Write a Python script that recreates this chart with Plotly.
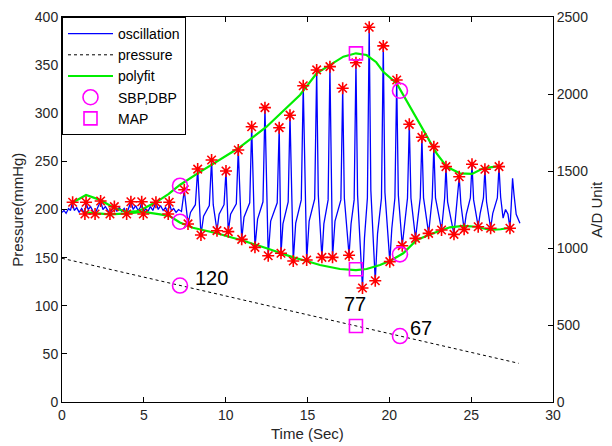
import plotly.graph_objects as go

# ---------------- data ----------------
# oscillation waveform (time s, value on the pressure scale)
osc_t = [0.00, 0.12, 0.25, 0.40, 0.52, 0.63, 0.75, 0.90, 1.05, 1.20, 1.38, 1.47, 1.60, 1.75, 1.90,
         2.02, 2.18, 2.36, 2.50, 2.65, 2.80, 2.93, 3.05, 3.20, 3.35, 3.50, 3.65, 3.80, 3.95, 4.08,
         4.21, 4.35, 4.50, 4.65, 4.78, 4.87, 4.97, 5.10, 5.25, 5.40, 5.55, 5.74, 5.88, 6.02, 6.18,
         6.33, 6.49, 6.55, 6.68, 6.82, 6.97, 7.12, 7.30, 7.47,
         7.70, 7.85, 8.15, 8.29,
         8.49, 8.65, 9.00, 9.14, 9.24,
         9.47, 9.60, 9.90, 10.02,
         10.16, 10.30, 10.65, 10.77,
         10.98, 11.12, 11.47, 11.59,
         11.79, 11.95, 12.28, 12.40,
         12.60, 12.75, 13.15, 13.27,
         13.38, 13.50, 13.82, 13.93,
         14.13, 14.28, 14.62, 14.74,
         14.95, 15.10, 15.44, 15.56, 15.66,
         15.88, 16.00, 16.26, 16.37,
         16.53, 16.68, 17.04, 17.15, 17.25,
         17.54, 17.66, 17.85, 17.96, 18.06,
         18.36, 18.48, 18.66, 18.77, 18.87,
         19.14, 19.28, 19.52, 19.63, 19.73,
         20.03, 20.15, 20.34, 20.45, 20.55,
         20.79, 20.92, 21.11, 21.22, 21.32,
         21.60, 21.72, 21.89, 21.99, 22.09,
         22.40, 22.50, 22.62, 22.72, 22.82,
         23.19, 23.28, 23.38, 23.46, 23.56,
         23.95, 24.05, 24.18, 24.27, 24.37,
         24.57, 24.70, 24.95, 25.05, 25.15,
         25.43, 25.55, 25.75, 25.84, 25.94,
         26.19, 26.32, 26.60, 26.70, 26.80,
         26.95, 27.10, 27.25, 27.37, 27.45, 27.53, 27.62, 27.75, 27.98]
osc_v = [197, 199, 196, 201, 199, 207, 199, 202, 197, 201, 195.5, 207, 200, 203, 198,
         195.5, 202, 208.5, 200, 203, 199, 195.5, 200, 203, 198, 202, 198, 201, 195.5, 201,
         208, 200, 204, 199, 202, 208, 195.5, 201, 198, 203, 199, 207.5, 200, 204, 199,
         202, 195.5, 207.5, 199, 201, 197, 200, 198, 220,
         185, 197, 205, 242,
         173.5, 193, 204, 251.4, 205,
         178, 195, 205, 240,
         177, 195, 206, 261.8,
         169, 192, 207, 286,
         160.7, 190, 208, 305.8,
         152, 188, 207, 285,
         154.5, 185, 208, 298,
         146.5, 186, 210, 328.6,
         147.5, 188, 211, 345, 215,
         150.3, 185, 210, 348.4,
         150.3, 188, 210, 326, 212,
         152.5, 185, 210, 352.5, 215,
         118.4, 170, 212, 389.3, 220,
         126, 175, 212, 370, 218,
         145.8, 180, 212, 334.5, 215,
         162.4, 185, 212, 288.5, 212,
         170, 190, 212, 275, 212,
         175.2, 192, 212, 265.3, 212,
         178.7, 195, 212, 244.5, 208,
         174.2, 192, 210, 234, 206,
         179.4, 195, 212, 247, 210,
         182.1, 196, 212, 241.8, 208,
         180.5, 196, 212, 244.5, 213,
         191, 200, 195, 180.5, 205, 232.4, 215, 195, 185.6]

# peak / trough detections (red stars)
peak_t = [0.65, 1.47, 2.36, 3.20, 4.21, 4.87, 5.74, 6.55, 7.47, 8.29, 9.14, 10.02, 10.77, 11.59,
          12.40, 13.27, 13.93, 14.74, 15.56, 16.37, 17.15, 17.96, 18.77, 19.63, 20.45, 21.22,
          21.99, 22.72, 23.46, 24.27, 25.05, 25.84, 26.70]
peak_v = [207.5, 207.5, 208.8, 203, 208, 208, 207.5, 207.5, 220.5, 242, 251.4, 240, 261.8, 286,
          305.8, 285, 298, 328.6, 345, 348.4, 326, 352.5, 389.3, 370, 334.5, 288.5,
          275, 265.3, 244.5, 234, 247, 241.8, 244.5]
trough_t = [1.40, 2.02, 2.93, 3.95, 4.97, 6.49, 7.70, 8.49, 9.47, 10.16, 10.98, 11.79, 12.60,
            13.38, 14.13, 14.95, 15.88, 16.53, 17.54, 18.36, 19.14, 20.03, 20.79, 21.60,
            22.40, 23.19, 23.95, 24.57, 25.43, 26.19, 27.37]
trough_v = [195.3, 195.3, 195.3, 195.3, 195.3, 195.3, 185, 173.5, 178, 177, 169, 160.7, 152,
            154.5, 146.5, 147.5, 150.3, 150.3, 152.5, 118.4, 126, 145.8, 162.4, 170,
            175.2, 178.7, 174.2, 179.4, 182.1, 180.5, 180.5]

# polyfit envelopes
up_t = [0.63, 1.47, 2.32, 3.24, 4.00, 4.50, 4.87, 5.78, 6.50, 7.20, 8.29, 9.50, 10.77, 12.50,
        13.50, 14.54, 15.56, 16.37, 17.19, 17.96, 18.61, 19.20, 19.63, 20.45, 21.26, 22.07,
        22.89, 23.50, 24.31, 25.05, 25.74, 26.70]
up_v = [207, 215, 210, 201, 197.5, 198, 200, 208, 216, 225.5, 237.6, 250, 263.6, 286,
        302, 319, 341.5, 350, 358.8, 362.3, 360.5, 353, 343, 331, 306.8, 282.6,
        258.4, 244.5, 237.6, 237, 242.8, 245]
lo_t = [1.40, 2.93, 4.00, 4.97, 6.00, 6.60, 7.20, 8.00, 9.45, 11.08, 12.50, 14.13, 15.05,
        15.76, 16.98, 17.96, 18.61, 19.43, 20.14, 20.85, 21.67, 22.68, 23.70, 24.51, 25.33,
        26.15, 26.80, 27.37]
lo_v = [197, 195, 196, 197.5, 195, 193, 186.5, 181, 175.3, 167.6, 159.7, 150.3, 146,
        142.3, 138.2, 137.1, 138.2, 142.3, 147.5, 154.5, 168.3, 175.3, 181.5, 182.9, 182.1,
        178.7, 179.5, 181]

# cuff pressure
pres_t = [0.0, 7.21, 17.96, 20.65, 27.9]
pres_v = [149.3, 121.1, 79.0, 68.5, 40.2]

# SBP / DBP and MAP markers
sbp_t = [7.21, 7.21, 7.21, 20.65, 20.65, 20.65]
sbp_v = [224.7, 187.3, 121.0, 323.4, 153.4, 68.5]
map_t = [17.96, 17.96, 17.96]
map_v = [362.2, 137.9, 79.0]

# labels
lab_text = ["120", "77", "67"]
lab_t = [7.98, 17.9, 21.14]
lab_v = [128.5, 101.8, 77.4]
lab_anchor = ["left", "center", "left"]

x_ticks = [0, 5, 10, 15, 20, 25, 30]
y_ticks = [0, 50, 100, 150, 200, 250, 300, 350, 400]
y2_ticks = [0, 500, 1000, 1500, 2000, 2500]

# ---------------- figure ----------------
FONT = "Arial, Liberation Sans, sans-serif"
TXT = "#262626"
RED = "#FF0000"
MAG = "#FF00FF"
fig = go.Figure()

fig.add_trace(go.Scatter(x=osc_t, y=osc_v, mode="lines", name="oscillation",
                         line=dict(color="#0000FF", width=1.3)))
fig.add_trace(go.Scatter(x=pres_t, y=pres_v, mode="lines", name="pressure",
                         line=dict(color="black", width=1, dash="dot")))
fig.add_trace(go.Scatter(x=up_t, y=up_v, mode="lines", name="polyfit",
                         line=dict(color="#00EE00", width=2.2)))
fig.add_trace(go.Scatter(x=lo_t, y=lo_v, mode="lines", name="polyfit", showlegend=False,
                         line=dict(color="#00EE00", width=2.2)))
for st, sv in ((peak_t, peak_v), (trough_t, trough_v)):
    fig.add_trace(go.Scatter(x=st, y=sv, mode="markers", showlegend=False,
                             marker=dict(symbol="asterisk-open", size=10, color=RED,
                                         line=dict(color=RED, width=1.6))))
fig.add_trace(go.Scatter(x=sbp_t, y=sbp_v, mode="markers", name="SBP,DBP",
                         marker=dict(symbol="circle-open", size=15, color=MAG,
                                     line=dict(color=MAG, width=1.6))))
fig.add_trace(go.Scatter(x=map_t, y=map_v, mode="markers", name="MAP",
                         marker=dict(symbol="square-open", size=13, color=MAG,
                                     line=dict(color=MAG, width=1.6))))
# right axis (A/D units)
fig.add_trace(go.Scatter(x=[None], y=[None], yaxis="y2", showlegend=False, hoverinfo="skip"))

for txt, tx, ty, an in zip(lab_text, lab_t, lab_v, lab_anchor):
    fig.add_annotation(x=tx, y=ty, text=txt, showarrow=False, xanchor=an, yanchor="middle",
                       font=dict(family=FONT, size=20, color="black"))

# axis titles placed as paper annotations
fig.add_annotation(x=0.5, y=-0.083, xref="paper", yref="paper", text="Time (Sec)",
                   showarrow=False, xanchor="center", yanchor="middle",
                   font=dict(family=FONT, size=15, color=TXT))
fig.add_annotation(x=-0.091, y=0.5, xref="paper", yref="paper", text="Pressure(mmHg)",
                   showarrow=False, textangle=-90, xanchor="center", yanchor="middle",
                   font=dict(family=FONT, size=15, color=TXT))
fig.add_annotation(x=1.088, y=0.5, xref="paper", yref="paper", text="A/D Unit",
                   showarrow=False, textangle=-90, xanchor="center", yanchor="middle",
                   font=dict(family=FONT, size=15, color=TXT))

axis_common = dict(showgrid=False, zeroline=False, showline=True, linecolor="black",
                   linewidth=1, ticks="inside", ticklen=5, tickcolor="black", automargin=False,
                   tickfont=dict(family=FONT, size=14, color=TXT))

# the page body adds an 8px offset, so the figure is 8px smaller than the window
fig.update_layout(
    width=604, height=438,
    margin=dict(l=54, r=59, t=9, b=44),
    paper_bgcolor="white", plot_bgcolor="white",
    xaxis=dict(range=[0, 30], tickvals=x_ticks, mirror="ticks", **axis_common),
    yaxis=dict(range=[0, 400], tickvals=y_ticks, **axis_common),
    yaxis2=dict(range=[0, 2500], tickvals=y2_ticks, overlaying="y", side="right",
                **axis_common),
    legend=dict(x=0, y=1, xanchor="left", yanchor="top", bgcolor="white",
                bordercolor="black", borderwidth=1,
                font=dict(family=FONT, size=14, color="black"),
                itemwidth=45, tracegroupgap=0),
    showlegend=True,
)

fig.write_html("out.html")
